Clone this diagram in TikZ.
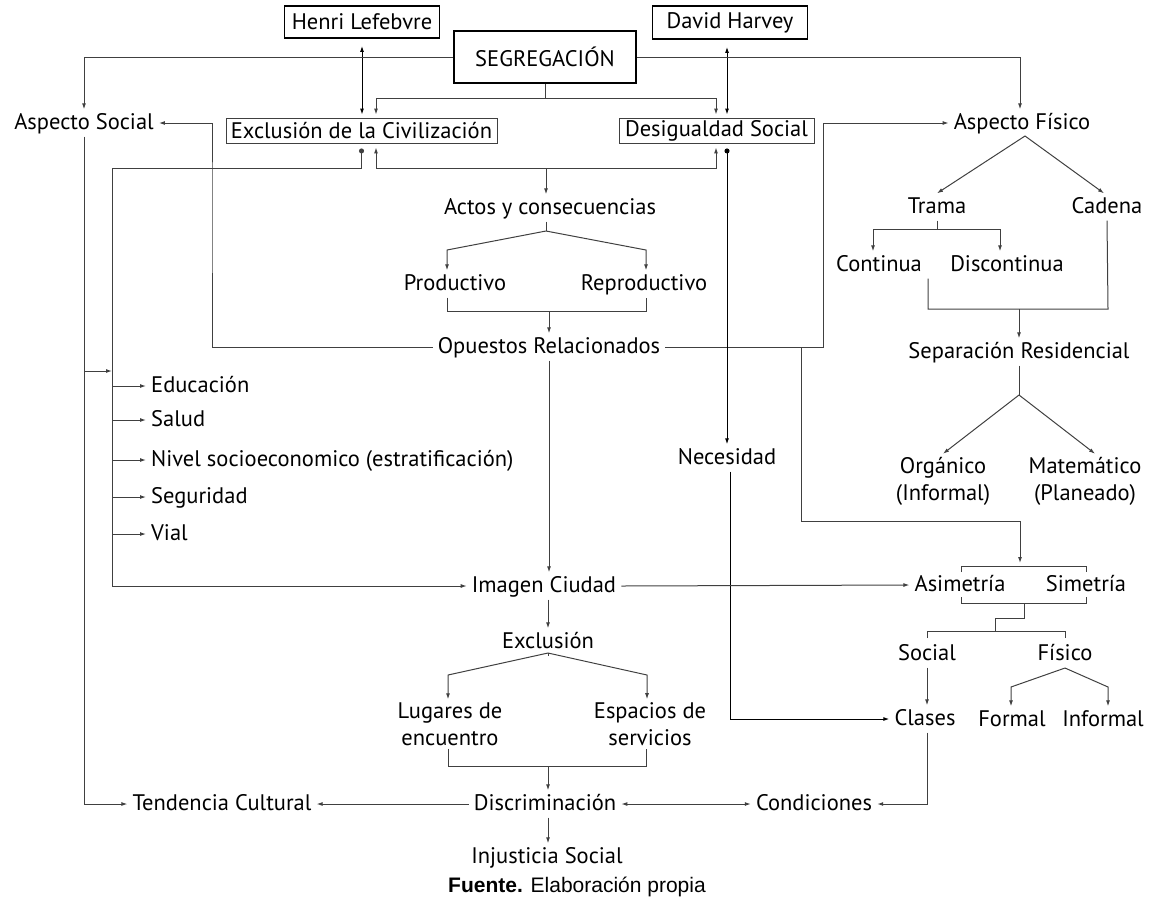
\documentclass[tikz,border=0pt]{standalone}
\usepackage{fontspec}
\setmainfont{PT Sans}
\newfontfamily\notefont{Liberation Sans}
\usetikzlibrary{arrows.meta,calc}

\definecolor{lncol}{gray}{0.25}

\begin{document}
\begin{tikzpicture}[x=1pt,y=-1pt,
  font=\fontsize{22.5}{27}\selectfont,
  ln/.style={draw=lncol, line width=1pt},
  dk/.style={draw=black, line width=1pt},
  tip/.style={-{Latex[length=6pt,width=4pt]}},
  tips/.style={{Latex[length=6pt,width=4pt]}-{Latex[length=6pt,width=4pt]}},
  dottip/.style={{Circle[length=5pt]}-{Latex[length=6pt,width=4pt]}},
  arr/.style={ln, tip},
  lbl/.style={inner xsep=5pt, inner ysep=2.5pt, text height=17pt, text depth=5pt},
  two/.style={align=center, inner xsep=5pt, inner ysep=3pt, font=\fontsize{22.5}{27}\selectfont},
  heavybox/.style={draw=black, line width=1.8pt, inner sep=0pt},
  thinbox/.style={draw=lncol, line width=0.9pt, inner sep=0pt},
]
\useasboundingbox (0,0) rectangle (1155,898);

% ---- boxed heads ----
\node[heavybox, minimum width=155pt, minimum height=32pt] (henri) at (362,22) {Henri Lefebvre};
\node[heavybox, minimum width=155pt, minimum height=33pt] (david) at (730,22.5) {David Harvey};
\node[heavybox, minimum width=182pt, minimum height=52pt] (seg) at (545,57) {SEGREGACIÓN};
\node[thinbox, minimum width=271pt, minimum height=25pt] (excl) at (361.5,130.5) {Exclusión de la Civilización};
\node[thinbox, minimum width=195pt, minimum height=25pt] (desig) at (716.5,130.5) {Desigualdad Social};

% ---- left column ----
\node[lbl] (asoc) at (84,123) {Aspecto Social};
\node[lbl, anchor=west] (educ) at (146,386) {Educación};
\node[lbl, anchor=west] (salud) at (146,420) {Salud};
\node[lbl, anchor=west] (nivel) at (146,460) {Nivel socioeconomico (estratificación)};
\node[lbl, anchor=west] (segur) at (146,497) {Seguridad};
\node[lbl, anchor=west] (vial) at (146,534) {Vial};
\node[lbl] (tend) at (222,804) {Tendencia Cultural};

% ---- central column ----
\node[lbl] (actos) at (550,208) {Actos y consecuencias};
\node[lbl] (prod) at (455,284) {Productivo};
\node[lbl] (reprod) at (644,284) {Reproductivo};
\node[lbl] (opu) at (549,347) {Opuestos Relacionados};
\node[lbl] (nec) at (727,458) {Necesidad};
\node[lbl] (imagen) at (544,586) {Imagen Ciudad};
\node[lbl] (exclu) at (548,642) {Exclusión};
\node[two] (lugares) at (450,724) {Lugares de\\encuentro};
\node[two] (espacios) at (650,724) {Espacios de\\servicios};
\node[lbl] (discr) at (545,804) {Discriminación};
\node[lbl] (cond) at (814,804) {Condiciones};
\node[lbl] (inj) at (547,857) {Injusticia Social};

% ---- right column ----
\node[lbl] (afis) at (1022,123) {Aspecto Físico};
\node[lbl] (trama) at (937,207) {Trama};
\node[lbl] (cadena) at (1107,207) {Cadena};
\node[lbl] (cont) at (879,265) {Continua};
\node[lbl] (discont) at (1007,265) {Discontinua};
\node[lbl] (sep) at (1019,352) {Separación Residencial};
\node[two] (org) at (943,481) {Orgánico\\(Informal)};
\node[two] (mat) at (1085,481) {Matemático\\(Planeado)};
\node[lbl] (asim) at (960,585) {Asimetría};
\node[lbl] (sim) at (1086,585) {Simetría};
\node[lbl] (social) at (927,654) {Social};
\node[lbl] (fisico) at (1065,654) {Físico};
\node[lbl] (clases) at (925,719) {Clases};
\node[lbl] (formal) at (1012,720) {Formal};
\node[lbl] (informal) at (1103,720) {Informal};

% ---- source line ----
\node (fuente) at (577,887) {\notefont\fontsize{21}{24}\selectfont\textbf{Fuente.} Elaboración propia};

% ---- helper points ----
\coordinate (xdv) at (727,0);
\coordinate (sj) at (545,98);
\coordinate (aj) at (546,168);
\coordinate (lj) at (112,168);
\coordinate (aa) at (546,231);
\coordinate (k1) at (212,200);
\coordinate (k2) at (823,200);
\coordinate (jo) at (801,347);
\coordinate (bt) at (1020,566);
\coordinate (c371) at (112,371);
\coordinate (ea) at (548,653);
\coordinate (fa) at (1065,668);
\coordinate (pa) at (1025,136);
\coordinate (tj) at (937,229);
\coordinate (sa) at (1019,395);

% ---- authors ----
\draw[dk, tips, shorten <=7pt, shorten >=3pt] (henri.south) -- (henri.south |- excl.north);
\draw[dk, tips, shorten <=7pt, shorten >=3pt] (xdv |- david.south) -- (xdv |- desig.north);

% ---- SEGREGACIÓN outputs ----
\draw[ln] (seg.south) -- (sj);
\draw[arr, shorten >=3pt] (sj) -| ($(excl.north)+(14.5,0)$);
\draw[arr, shorten >=3pt] (sj) -| ($(desig.north)+(-0.5,0)$);
\draw[arr] (seg.west) -| (asoc.north);
\draw[arr] (seg.east) -| ($(afis.north)+(-2,0)$);

% ---- from Exclusión de la Civilización down the left ----
\draw[ln, dottip, shorten <=5pt] (excl.south) |- (lj) |- (imagen.west);
\draw[arr] (asoc.south) |- (tend.west);
\draw[arr] (asoc.south |- c371) -- (c371);
\foreach \n in {educ,salud,nivel,segur,vial}
  \draw[arr] (\n.west -| c371) -- (\n.west);

% ---- Actos y consecuencias ----
\draw[arr, shorten >=4pt] (aj) -| ($(excl.south)+(14.5,0)$);
\draw[arr, shorten >=4pt] (aj) -| ($(desig.south)+(-0.5,0)$);
\draw[arr] (aj) -- (aj |- actos.north);
\draw[ln] (aa |- actos.south) -- (aa);
\draw[arr] (aa) -- (447,250) -- ($(prod.north)+(-8,0)$);
\draw[arr] (aa) -- (646,250) -- ($(reprod.north)+(2,0)$);
\draw[ln] ($(prod.south)+(-8,0)$) -- (447,311) -- (646,311) -- ($(reprod.south)+(2,0)$);
\draw[arr] (549,311) -- (opu.north);

% ---- Opuestos Relacionados ----
\draw[arr] (opu.west) -| (k1) |- (asoc.east);
\draw[arr] (opu.east) -| (k2) |- (afis.west);
\draw[arr, shorten >=3pt] (jo) |- (1020,521) -- (bt);
\draw[arr] (opu.south) -- (opu.south |- imagen.north);

% ---- Desigualdad Social / Necesidad ----
\draw[dk, dottip, shorten <=5pt] (xdv |- desig.south) -- (xdv |- nec.north);
\draw[dk, tip] ($(nec.south)+(3,0)$) |- (clases.west);

% ---- Imagen Ciudad ----
\draw[arr] (imagen.east) -- (asim.west);
\draw[arr] (exclu.north |- imagen.south) -- (exclu.north);
\draw[ln] (exclu.south) -- (ea);
\draw[arr] (ea) -- (448,675) -- ($(lugares.north)+(-2,0)$);
\draw[arr] (ea) -- (647,675) -- ($(espacios.north)+(-3,0)$);
\draw[ln] ($(lugares.south)+(-2,0)$) -- (448,766) -- (646,766) -- ($(espacios.south)+(-4,0)$);
\draw[arr] (548,766) -- ($(discr.north)+(3,0)$);

% ---- Discriminación ----
\draw[arr] (discr.west) -- (tend.east);
\draw[ln, tips] (discr.east) -- (cond.west);
\draw[arr] ($(discr.south)+(3,0)$) -- ($(inj.north)+(1,0)$);

% ---- Aspecto Físico ----
\draw[arr] (pa) -- (trama.north);
\draw[arr] (pa) -- ($(cadena.north)+(-3,0)$);
\draw[ln] (trama.south) -- (tj);
\draw[arr] (tj) -| ($(cont.north)+(-6,0)$);
\draw[arr] (tj) -| ($(discont.north)+(-7,0)$);
\draw[ln] ($(cont.south)+(49,0)$) -- (928,309) -- (1108,309) -- (cadena.south);
\draw[arr] (1019,309) -- (sep.north);
\draw[ln] (sep.south) -- (sa);
\draw[arr] (sa) -- (org.north);
\draw[arr] (sa) -- ($(mat.north)+(10,0)$);

% ---- Asimetría / Simetría brackets ----
\draw[ln] (961,572) -- (961,566) -- (1086,566) -- (1086,572);
\draw[ln] (961,597) -- (961,603) -- (1086,603) -- (1086,597);
\draw[ln] (1024,603) -- (1024,618) -- (995,618) -- (995,631);
\draw[ln] (927,638) -- (927,631) -- (1065,631) -- (1065,638);

% ---- Social / Físico ----
\draw[arr] (social.south) -- (social.south |- clases.north);
\draw[arr] (social.south |- clases.south) |- (cond.east);
\draw[ln] (fisico.south) -- (fa);
\draw[arr] (fa) -- (1011,687) -- ($(formal.north)+(-1,0)$);
\draw[arr] (fa) -- (1108,687) -- ($(informal.north)+(5,0)$);
\end{tikzpicture}
\end{document}
